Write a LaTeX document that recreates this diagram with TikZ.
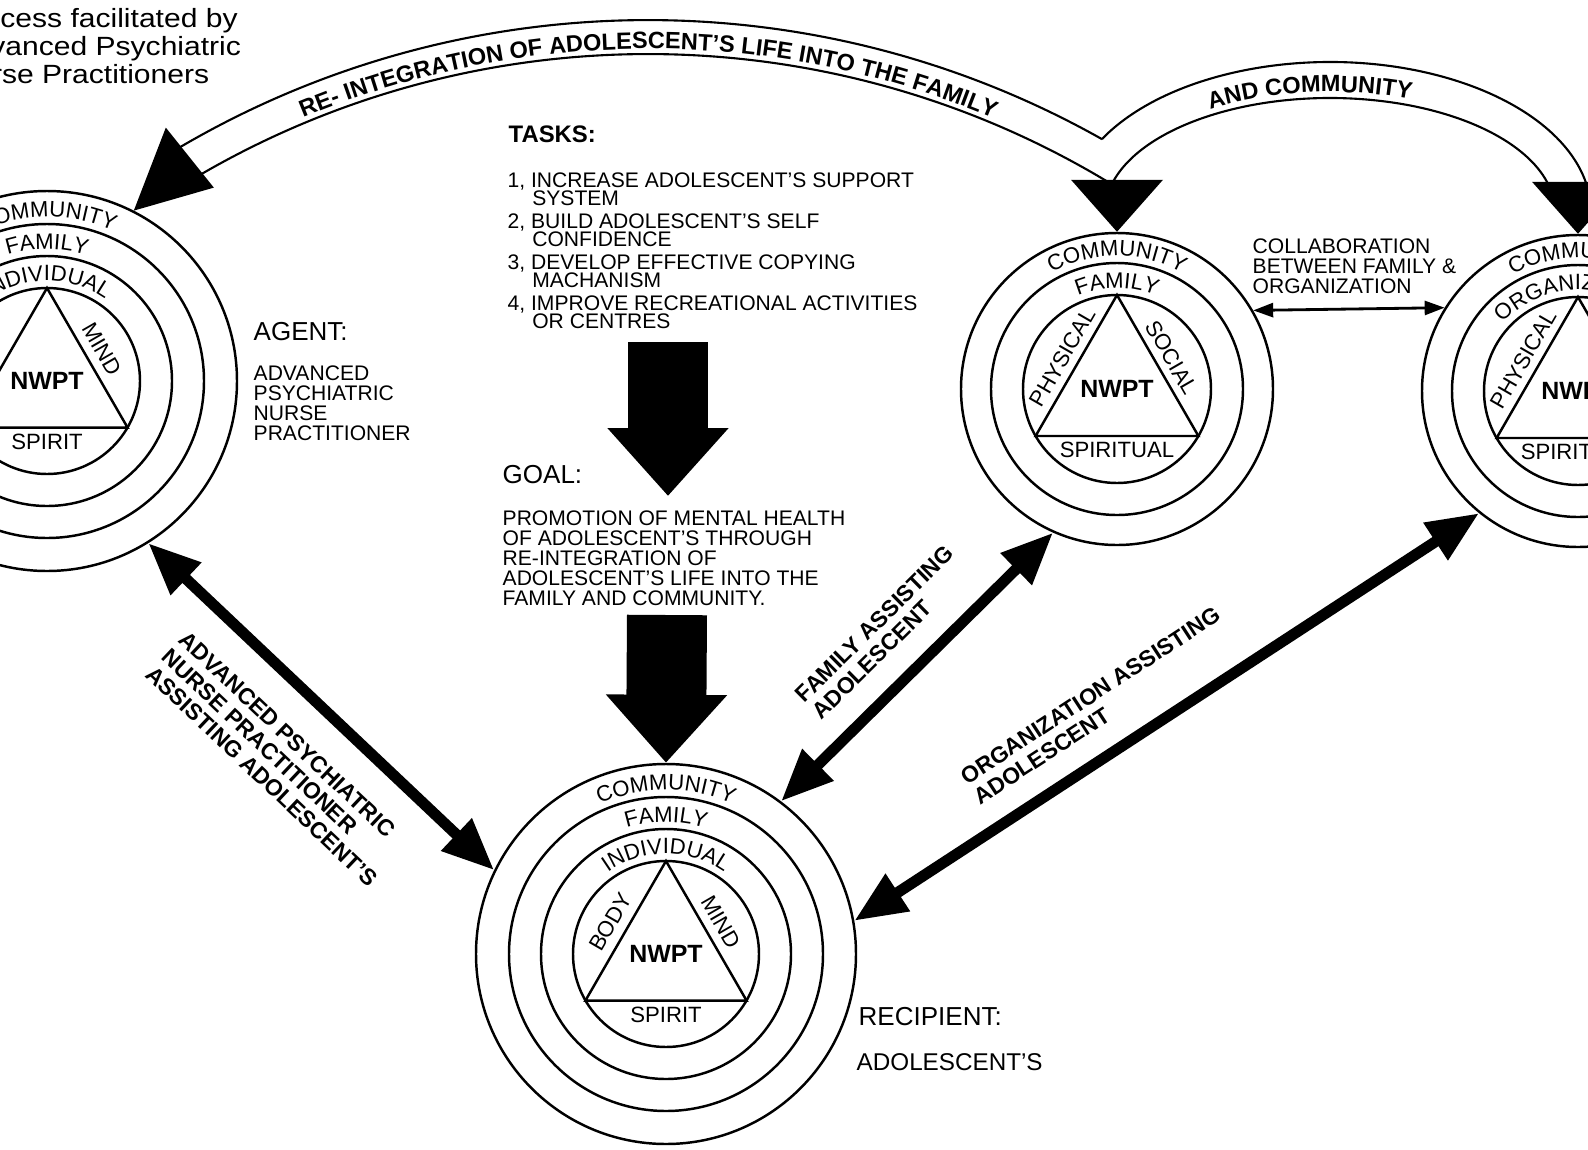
\documentclass[tikz,border=0pt]{standalone}
\usepackage{fontspec}
\setmainfont{Liberation Sans}
\newfontfamily\titlefont[FakeStretch=1.14]{Liberation Sans}
\usetikzlibrary{arrows.meta,decorations.text}
\newcommand{\ringfnt}{\fontsize{6.3}{6.3}\selectfont}
\newcommand{\bandfnt}{\bfseries\fontsize{6.7}{6.7}\selectfont}
\tikzset{
    ring/.style={circle,draw,line width=0.7pt,inner sep=0pt},
    ringline/.style={line width=0.7pt},
    ringtext/.style={font=\ringfnt,inner sep=0pt},
    core/.style={font=\bfseries\fontsize{7.1}{7.1}\selectfont,inner sep=0pt},
    heading/.style={font=\fontsize{7.4}{7.4}\selectfont,inner sep=0pt,anchor=north west},
    body/.style={font=\fontsize{6}{5.7}\selectfont,inner sep=0pt,anchor=north west,align=left},
    assist/.style={font=\bfseries\fontsize{6.5}{6.8}\selectfont,inner sep=0pt,align=left,sloped},
    bigarrow/.style={line width=1.1mm,{Triangle[length=5.2mm,width=4.2mm]}-{Triangle[length=5.2mm,width=4.2mm]}},
    blockarrow/.style={line width=8mm,-{Triangle[length=6.8mm,width=11.7mm]}},
    thinarrow/.style={line width=0.8pt,{Triangle[length=2mm,width=1.4mm]}-{Triangle[length=2mm,width=1.4mm]}},
    bandline/.style={line width=0.6pt},
    ontop/.style 2 args={decorate,decoration={text along path,text={|#1|#2},text align=center}},
}

\begin{document}
\begin{tikzpicture}[x=0.1mm,y=-0.1mm]
    \useasboundingbox (0,0) rectangle (1588,1150);
    \clip (0,0) rectangle (1588,1150);

    \node[ring,minimum size=38mm] (agent) at (47,381) {};
    \node[ring,minimum size=38mm] (recip) at (666,954) {};
    \node[ring,minimum size=31.2mm] (fam) at (1117,389) {};
    \node[ring,minimum size=31.2mm] (org) at (1578,391) {};

    \draw[ringline] (agent.center) circle[radius=15.7mm];
    \draw[ringline] (agent.center) circle[radius=12.5mm];
    \draw[ringline] (agent.center) circle[radius=9.3mm];
    \draw[ringline] (agent.center) ++(90:9.3mm) -- ++(-120:16.11mm) -- ++(0:16.11mm) -- cycle;
    \draw[ringline] (recip.center) circle[radius=15.7mm];
    \draw[ringline] (recip.center) circle[radius=12.5mm];
    \draw[ringline] (recip.center) circle[radius=9.3mm];
    \draw[ringline] (recip.center) ++(90:9.3mm) -- ++(-120:16.11mm) -- ++(0:16.11mm) -- cycle;
    \draw[ringline] (fam.center) circle[radius=12.6mm];
    \draw[ringline] (fam.center) circle[radius=9.4mm];
    \draw[ringline] (fam.center) ++(90:9.4mm) -- ++(-120:16.28mm) -- ++(0:16.28mm) -- cycle;
    \draw[ringline] (org.center) circle[radius=12.6mm];
    \draw[ringline] (org.center) circle[radius=9.4mm];
    \draw[ringline] (org.center) ++(90:9.4mm) -- ++(-120:16.28mm) -- ++(0:16.28mm) -- cycle;

    \path[ontop={\ringfnt}{COMMUNITY}] ([shift={(agent.center)}]160:16.4mm) arc[start angle=160,end angle=20,radius=16.4mm];
    \path[ontop={\ringfnt}{FAMILY}] ([shift={(agent.center)}]160:13.2mm) arc[start angle=160,end angle=20,radius=13.2mm];
    \path[ontop={\ringfnt}{INDIVIDUAL}] ([shift={(agent.center)}]160:10mm) arc[start angle=160,end angle=20,radius=10mm];
    \node[ringtext,rotate=-60] (amind) at ([shift={(agent.center)}]30:6.4mm) {MIND};
    \node[core] (anwpt) at (agent.center) {NWPT};
    \node[ringtext] (aspirit) at ([shift={(agent.center)}]-90:6.1mm) {SPIRIT};

    \path[ontop={\ringfnt}{COMMUNITY}] ([shift={(recip.center)}]160:16.4mm) arc[start angle=160,end angle=20,radius=16.4mm];
    \path[ontop={\ringfnt}{FAMILY}] ([shift={(recip.center)}]160:13.2mm) arc[start angle=160,end angle=20,radius=13.2mm];
    \path[ontop={\ringfnt}{INDIVIDUAL}] ([shift={(recip.center)}]160:10mm) arc[start angle=160,end angle=20,radius=10mm];
    \node[ringtext,rotate=60] (rbody) at ([shift={(recip.center)}]150:6.4mm) {BODY};
    \node[ringtext,rotate=-60] (rmind) at ([shift={(recip.center)}]30:6.4mm) {MIND};
    \node[core] (rnwpt) at (recip.center) {NWPT};
    \node[ringtext] (rspirit) at ([shift={(recip.center)}]-90:6.1mm) {SPIRIT};

    \path[ontop={\ringfnt}{COMMUNITY}] ([shift={(fam.center)}]160:13.3mm) arc[start angle=160,end angle=20,radius=13.3mm];
    \path[ontop={\ringfnt}{FAMILY}] ([shift={(fam.center)}]160:10.1mm) arc[start angle=160,end angle=20,radius=10.1mm];
    \node[ringtext,rotate=60] (fphys) at ([shift={(fam.center)}]150:6.3mm) {PHYSICAL};
    \node[ringtext,rotate=-60] (fsoc) at ([shift={(fam.center)}]30:6.3mm) {SOCIAL};
    \node[core] (fnwpt) at (fam.center) {NWPT};
    \node[ringtext] (fspirit) at ([shift={(fam.center)}]-90:6.1mm) {SPIRITUAL};

    \path[ontop={\ringfnt}{COMMUNITY}] ([shift={(org.center)}]160:13.3mm) arc[start angle=160,end angle=20,radius=13.3mm];
    \path[ontop={\ringfnt}{ORGANIZATION}] ([shift={(org.center)}]160:10.1mm) arc[start angle=160,end angle=20,radius=10.1mm];
    \node[ringtext,rotate=60] (ophys) at ([shift={(org.center)}]150:6.3mm) {PHYSICAL};
    \node[core] (onwpt) at (org.center) {NWPT};
    \node[ringtext] (ospirit) at ([shift={(org.center)}]-90:6.1mm) {SPIRITUAL};

    \coordinate (bandc) at (648,945);
    \coordinate (bandd) at (1330,212);
    \draw[bandline] ([shift={(bandc)}]120.5:92.5mm) arc[start angle=120.5,end angle=60.6,radius=92.5mm];
    \draw[bandline] ([shift={(bandc)}]120.3:89.1mm) arc[start angle=120.3,end angle=59,radius=89.1mm];
    \draw[bandline] ([shift={(bandd)}]150.9:26.1mm and 15mm) arc[start angle=150.9,end angle=11.1,x radius=26.1mm,y radius=15mm];
    \draw[bandline] ([shift={(bandd)}]165.3:22.5mm and 11.4mm) arc[start angle=165.3,end angle=15,x radius=22.5mm,y radius=11.4mm];
    \path[ontop={\bandfnt}{RE- INTEGRATION OF ADOLESCENT'S LIFE INTO THE FAMILY}] ([shift={(bandc)}]150:89.6mm) arc[start angle=150,end angle=30,radius=89.6mm];
    \path[ontop={\bandfnt}{AND COMMUNITY}] ([shift={(bandd)}]152:23.1mm and 12mm) arc[start angle=152,end angle=42,x radius=23.1mm,y radius=12mm];
    \fill (agent.63.3) -- ++(32,-83) -- ++(48,60) -- cycle;
    \fill (fam.north) -- ++(-46,-52) -- ++(92,0) -- cycle;
    \fill (org.north) -- ++(-46,-52) -- ++(92,0) -- cycle;

    \draw[bigarrow] (agent.-58.3) -- (recip.154.7) node[assist,pos=0.51,below=3mm] (aplabel) {ADVANCED PSYCHIATRIC\\NURSE PRACTITIONER\\ASSISTING ADOLESCENT'S};
    \draw[bigarrow] (recip.53) -- (fam.-114.4) node[assist,pos=0.5,above=2.3mm] (famlabel) {FAMILY ASSISTING\\ADOLESCENT};
    \draw[bigarrow] (recip.10.6) -- (org.-129.3) node[assist,pos=0.43,above=2.2mm] (orglabel) {ORGANIZATION ASSISTING\\ADOLESCENT};
    \draw[thinarrow] (fam.30.4) -- (org.148.7);

    \coordinate (taskfoot) at (668,342);
    \coordinate (goaltop) at (668,496);
    \coordinate (goalfoot) at (667,615);
    \draw[blockarrow] (taskfoot) -- (goaltop);
    \draw[blockarrow] (goalfoot) -- (recip.north);

    \node[anchor=north west,inner sep=0pt,align=left,font=\titlefont\fontsize{7.5}{6.2}\selectfont] (title) at (-47,8) {Process facilitated by\\Advanced Psychiatric\\Nurse Practitioners};
    \node[heading] (agenthd) at (253,322) {AGENT:};
    \node[body] (agenttx) at (253,365) {ADVANCED\\PSYCHIATRIC\\NURSE\\PRACTITIONER};
    \node[heading,font=\bfseries\fontsize{6.8}{6.8}\selectfont] (taskhd) at (508,125) {TASKS:};
    \node[body,font=\fontsize{6}{5.2}\selectfont] (tasktx) at (507,172) {1, INCREASE ADOLESCENT'S SUPPORT\\\hspace*{7pt}SYSTEM\\[1.25pt]2, BUILD ADOLESCENT'S SELF\\\hspace*{7pt}CONFIDENCE\\[1.25pt]3, DEVELOP EFFECTIVE COPYING\\\hspace*{7pt}MACHANISM\\[1.25pt]4, IMPROVE RECREATIONAL ACTIVITIES\\\hspace*{7pt}OR CENTRES};
    \node[heading] (goalhd) at (502,465) {GOAL:};
    \node[body] (goaltx) at (502,510) {PROMOTION OF MENTAL HEALTH\\OF ADOLESCENT'S THROUGH\\RE-INTEGRATION OF\\ADOLESCENT'S LIFE INTO THE\\FAMILY AND COMMUNITY.};
    \node[body] (collab) at (1252,238) {COLLABORATION\\BETWEEN FAMILY \&\\ORGANIZATION};
    \node[heading] (reciphd) at (858,1007) {RECIPIENT:};
    \node[heading,font=\fontsize{6.9}{6.9}\selectfont] (reciptx) at (856,1053) {ADOLESCENT'S};
\end{tikzpicture}
\end{document}
